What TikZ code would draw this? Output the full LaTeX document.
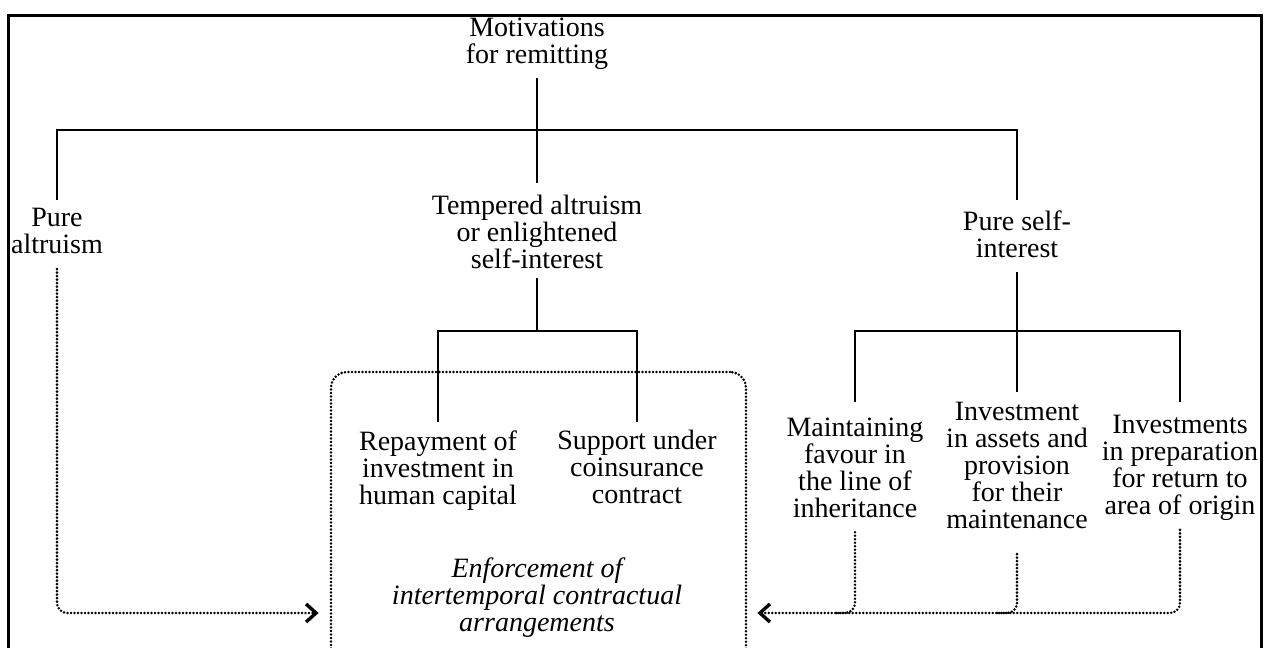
\documentclass[tikz,border=0pt]{standalone}
\usepackage{fontspec}
\setmainfont{Liberation Serif}
\usetikzlibrary{arrows.meta,calc}
\begin{document}
\begin{tikzpicture}[x=1pt,y=1pt,
  txt/.style={font=\fontsize{28}{27}\selectfont, align=center, inner sep=0pt, outer sep=0pt, anchor=north},
  tree/.style={line width=2.2pt, line cap=butt},
  dotline/.style={line width=2.8pt, line cap=round, dash pattern=on 0pt off 3.5pt, rounded corners=10pt},
  dotarr/.style={dotline, -{Straight Barb[length=10pt,width=18pt,line width=3.4pt]}},
  dotbox/.style={draw, line width=2.8pt, line cap=round, dash pattern=on 0pt off 3.5pt, rounded corners=16pt, minimum width=415pt, minimum height=300pt, inner sep=0pt}]
\clip (0,0) rectangle (1264,-648);
\fill[white] (0,0) rectangle (1264,-648);
% frame
\draw[line width=3pt] (8,-700) -- (8,-15) -- (1261,-15) -- (1261,-700);
% dotted box
\node[dotbox] (box) at (538.5,-522) {};
% nodes
\node[txt] (mot) at (537,-17.5) {Motivations\\for remitting};
\node[txt] (pa) at (57,-208.5) {Pure\\altruism};
\node[txt] (ta) at (537,-195.5) {Tempered altruism\\or enlightened\\self-interest};
\node[txt] (ps) at (1017,-210.5) {Pure self-\\interest};
\node[txt] (rep) at (438,-430.5) {Repayment of\\investment in\\human capital};
\node[txt] (sup) at (637,-430.5) {Support under\\coinsurance\\contract};
\node[txt, font=\fontsize{28}{27}\selectfont\itshape] (enf) at (537,-557.5) {Enforcement of\\intertemporal contractual\\arrangements};
\node[txt] (mai) at (855,-417.5) {Maintaining\\favour in\\the line of\\inheritance};
\node[txt] (inv) at (1017,-402.5) {Investment\\in assets and\\provision\\for their\\maintenance};
\node[txt] (invs) at (1180,-415.5) {Investments\\in preparation\\for return to\\area of origin};
% tree connectors
\coordinate (bar) at (537,-130);
\coordinate (bar2) at (537,-331);
\coordinate (bar3) at (1017,-331);
\coordinate (row) at (0,-613);
\draw[tree] ([yshift=-9pt]mot.south) -- ([yshift=13pt]ta.north);
\draw[tree] ([yshift=8.5pt]pa.north) |- (bar) -| ([yshift=10.5pt]ps.north);
\draw[tree] ([yshift=-9pt]ta.south) -- (bar2);
\draw[tree] ([yshift=8.5pt]rep.north) |- (bar2) -| ([yshift=8.5pt]sup.north);
\draw[tree] ([yshift=-15pt]ps.south) -- ([yshift=10.5pt]inv.north);
\draw[tree] ([yshift=15.5pt]mai.north) |- (bar3) -| ([yshift=13.5pt]invs.north);
% dotted connectors
\draw[dotarr, shorten >=11pt] ([yshift=-15pt]pa.south) |- (box.west |- row);
\draw[dotarr, shorten >=10pt] ([yshift=-9pt]invs.south) |- (box.east |- row);
\draw[dotline] ([yshift=-15pt]mai.south) |- ($(mai.south |- row)+(-20,0)$);
\draw[dotline] ([yshift=-25pt]inv.south) |- ($(inv.south |- row)+(-20,0)$);
\end{tikzpicture}
\end{document}
